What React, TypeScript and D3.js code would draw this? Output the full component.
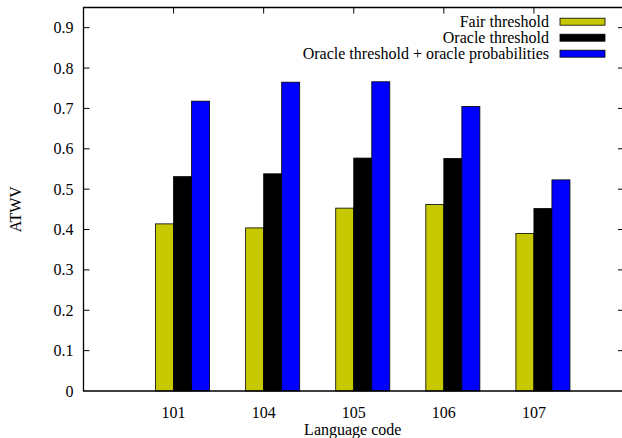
import React from "react";
import * as d3 from "d3";

const categories = ["101", "104", "105", "106", "107"];
const seriesNames = ["Fair threshold", "Oracle threshold", "Oracle threshold + oracle probabilities"];
const fairThreshold = [0.414, 0.404, 0.453, 0.462, 0.39];
const oracleThreshold = [0.531, 0.538, 0.577, 0.576, 0.452];
const oracleBoth = [0.718, 0.765, 0.766, 0.705, 0.523];
const yTicks = [0, 0.1, 0.2, 0.3, 0.4, 0.5, 0.6, 0.7, 0.8, 0.9];
const colors = ["#c8c800", "#000000", "#0000ff"];

const W = 622;
const H = 438;
const L = 83.5;
const R = 624;
const T = 7.5;
const B = 391;
const FS = 16;
const fontStyle = { fontFamily: "'Liberation Serif', 'Times New Roman', 'DejaVu Serif', serif" };

export default function App() {
  const x = d3.scaleLinear().domain([-1, 5]).range([L, R]);
  const y = d3.scaleLinear().domain([0, 0.95]).range([B, T]);
  const series = [fairThreshold, oracleThreshold, oracleBoth];
  const bw = 0.2;
  return (
    <svg width={W} height={H} style={{ position: "absolute", left: 0, top: 0, background: "#fff" }}>
      {series.map((vals, s) =>
        vals.map((v, i) => {
          const x0 = x(i - bw + s * bw);
          const x1 = x(i + s * bw);
          return (
            <rect
              key={`${s}-${i}`}
              x={x0}
              y={y(v)}
              width={x1 - x0}
              height={y(0) - y(v)}
              fill={colors[s]}
              stroke="#000"
              strokeWidth={0.8}
            />
          );
        })
      )}
      <path d={`M${L},${T}H${R}V${B}H${L}Z`} fill="none" stroke="#000" strokeWidth={1.3} />
      <g style={fontStyle} fontSize={FS}>
        {yTicks.map((t) => (
          <g key={t}>
            {t > 0 && <line x1={L} x2={L + 6} y1={y(t)} y2={y(t)} stroke="#000" strokeWidth={1} />}
            {t > 0 && <line x1={R - 6} x2={R} y1={y(t)} y2={y(t)} stroke="#000" strokeWidth={1} />}
            <text x={L - 10} y={y(t)} dy="0.35em" textAnchor="end">
              {String(t)}
            </text>
          </g>
        ))}
        {categories.map((c, i) => (
          <g key={c}>
            <line x1={x(i)} x2={x(i)} y1={T} y2={T + 6} stroke="#000" strokeWidth={1} />
            <text x={x(i)} y={B + 27} textAnchor="middle">
              {c}
            </text>
          </g>
        ))}
        <text x={(L + 622) / 2} y={B + 44} textAnchor="middle">
          Language code
        </text>
        <text transform={`translate(21,${(T + B) / 2 + 10}) rotate(-90)`} textAnchor="middle">
          ATWV
        </text>
        {seriesNames.map((n, s) => {
          const cy = 21.7 + s * 16;
          return (
            <g key={n}>
              <text x={549} y={cy} dy="0.35em" textAnchor="end">
                {n}
              </text>
              <rect x={560} y={cy - 3.5} width={45} height={7} fill={colors[s]} stroke="#000" strokeWidth={0.8} />
            </g>
          );
        })}
      </g>
    </svg>
  );
}
